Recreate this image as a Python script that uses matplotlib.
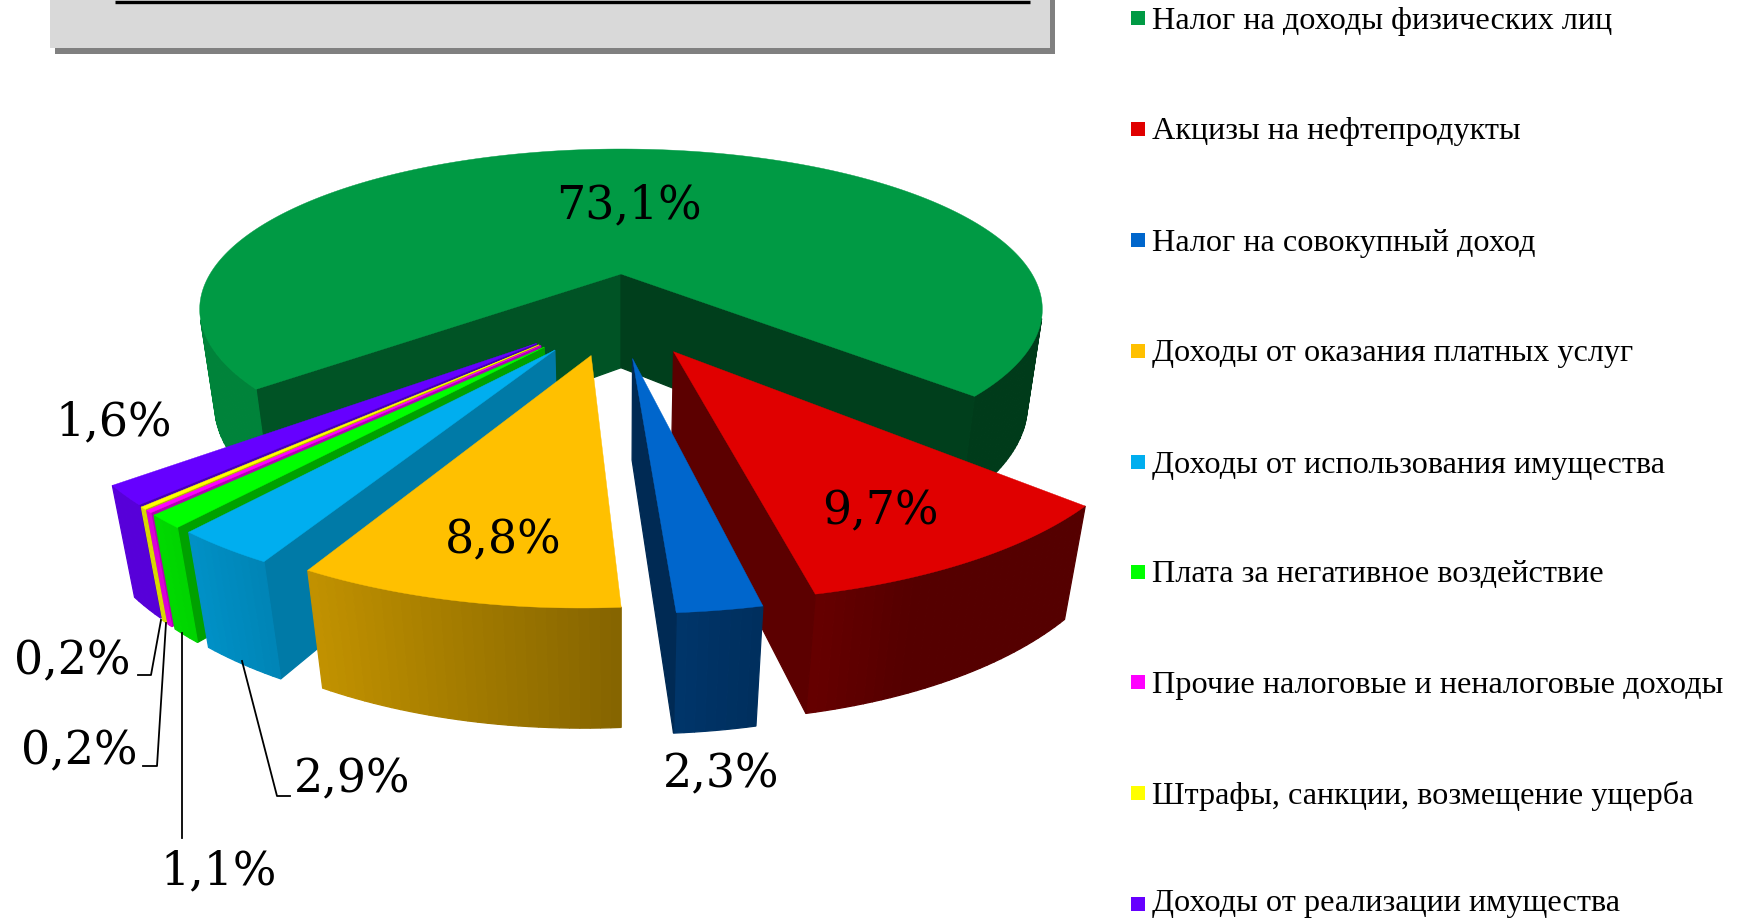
import numpy as np
import matplotlib
matplotlib.use('Agg')
import matplotlib.pyplot as plt
from matplotlib.patches import Rectangle

# data
categories = ['Налог на доходы физических лиц', 'Акцизы на нефтепродукты', 'Налог на совокупный доход',
              'Доходы от оказания платных услуг', 'Доходы от использования имущества',
              'Плата за негативное воздействие', 'Прочие налоговые и неналоговые доходы',
              'Штрафы, санкции, возмещение ущерба', 'Доходы от реализации имущества']
values = [73.1, 9.7, 2.3, 8.8, 2.9, 1.1, 0.2, 0.2, 1.6]

colors = ['#009A44', '#E00000', '#0066CC', '#FFC000', '#00AEEF', '#00FF00', '#FF00FF', '#FFFF00', '#6600FF']

# how far each slice is pulled out, in disk units (right, back)
explode_u = [0, 0.115, 0.025, -0.065, -0.145, -0.169, -0.177, -0.181, -0.187]
explode_v = [0, -0.458, -0.494, -0.478, -0.45, -0.434, -0.426, -0.422, -0.414]
start_cut_shade = [0.54, 0.6, 0.6, 0.6, 0.7, 0.63, 0.7, 0.7, 0.7]
end_cut_shade = 0.41

# label centres and legend rows, in pixels
label_x = [629, 880, 721, 503, 352, 219, 79, 72, 114]
label_y = [206, 512, 775, 541, 780, 872, 752, 662, 423]
legend_y = [18, 129, 240, 351, 462, 572, 682, 793, 904]

# leader lines
leaders = [[(242, 661), (277, 796), (290, 796)],
           [(182, 633), (182, 838)],
           [(166, 623), (157, 766), (143, 766)],
           [(161, 620), (151, 675), (138, 675)]]

# projection of the pie
cx, cy = 621, 274
rx, ry = 411, 152.5
k = 0.22     # perspective over the disk
m = 0.035    # perspective over the height
h = 97
rotation = 1.3


def project(u, v, z):
    d = 1 + k * v + m * z
    return cx + rx * u / d, cy + (-ry * v + h * z) / d


def outer_shade(u):
    return np.clip(0.55 - 0.45 * u, 0.38, 0.85)


def darker(color, s):
    rgb = np.array(matplotlib.colors.to_rgb(color))
    return tuple(rgb * s)


def draw_slice(ax, a0, a1, du, dv, color, cut0, cut1):
    ''' Draw one slice, side faces first, then the top '''
    thetas = np.radians(np.linspace(a0, a1, max(int(a1 - a0), 2) + 1))
    us = np.concatenate([[du], du + np.sin(thetas)])
    vs = np.concatenate([[dv], dv + np.cos(thetas)])
    n = len(us)
    for i in range(n):
        j = (i + 1) % n
        x1, y1 = project(us[i], vs[i], 0)
        x2, y2 = project(us[j], vs[j], 0)
        x3, y3 = project(us[j], vs[j], 1)
        x4, y4 = project(us[i], vs[i], 1)
        xs = [x1, x2, x3, x4]
        ys = [y1, y2, y3, y4]
        area = sum(xs[q] * ys[(q + 1) % 4] - xs[(q + 1) % 4] * ys[q] for q in range(4))
        if area >= 0:
            continue
        if i == 0:
            s = cut0
        elif j == 0:
            s = cut1
        else:
            s = outer_shade((us[i] + us[j]) / 2 - du)
        c = darker(color, s)
        ax.fill(xs, ys, facecolor=c, edgecolor=c, lw=0.9, zorder=2)
    px, py = project(us, vs, 0)
    ax.fill(px, py, facecolor=color, edgecolor=color, lw=0.3, zorder=2)


fig = plt.figure(figsize=(17.45, 9.18), dpi=100)
ax = fig.add_axes([0, 0, 1, 1])
ax.set_xlim(0, 1745)
ax.set_ylim(918, 0)
ax.axis('off')

# title box, its text is cut off by the top of the picture
ax.add_patch(Rectangle((55, -10), 1000, 64, facecolor='#808080', edgecolor='none'))
ax.add_patch(Rectangle((50, -10), 1000, 58, facecolor='#D9D9D9', edgecolor='none'))
ax.plot([115, 1030], [1.5, 1.5], color='black', lw=2.4, solid_capstyle='butt')

# slices
total = sum(values)
sweeps = [val / total * 360 for val in values]
starts = [rotation - sweeps[0] / 2 + sum(sweeps[:i]) for i in range(len(values))]

# back to front
for i in [0, 8, 7, 6, 5, 4, 3, 1, 2]:
    draw_slice(ax, starts[i], starts[i] + sweeps[i], explode_u[i], explode_v[i], colors[i],
               start_cut_shade[i], end_cut_shade)

# labels
for i, val in enumerate(values):
    txt = ('%.1f%%' % val).replace('.', ',')
    ax.text(label_x[i], label_y[i], txt, fontsize=33, family='DejaVu Serif',
            ha='center', va='center', color='black', zorder=5)

for line in leaders:
    ax.plot([p[0] for p in line], [p[1] for p in line], color='black', lw=1.3, zorder=4)

# legend
for i, name in enumerate(categories):
    ax.add_patch(Rectangle((1131, legend_y[i] - 7), 14, 14, facecolor=colors[i], edgecolor='none'))
    text_y = legend_y[i] + 3 if i < len(categories) - 1 else legend_y[i]
    ax.text(1152, text_y, name, fontsize=23.2, family='Liberation Serif',
            ha='left', va='center', color='black')

fig.savefig('out.png', dpi=100)
